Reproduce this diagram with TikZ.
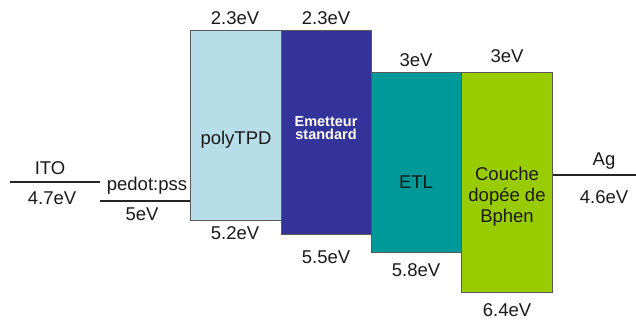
\documentclass[tikz,border=0pt]{standalone}
\usepackage{fontspec}
\setmainfont{Liberation Sans}
\definecolor{cTPD}{HTML}{B7DEE8}
\definecolor{cEM}{HTML}{333399}
\definecolor{cETL}{HTML}{009999}
\definecolor{cBP}{HTML}{99CC00}
\definecolor{cTxt}{HTML}{1A1A1A}
\begin{document}
\begin{tikzpicture}[x=1pt,y=-1pt,
  lvl/.style={line width=2pt,black!85},
  layer/.style={draw=black!65,line width=0.8pt},
  lab/.style={font=\fontsize{18.5}{21}\selectfont,text=cTxt,inner sep=0pt,anchor=center,align=center}]
\useasboundingbox (0,0) rectangle (636,320);
% electrodes
\coordinate (itoL) at (10,182);
\coordinate (itoR) at (100,182);
\coordinate (pedL) at (100,201);
\coordinate (pedR) at (190,201);
\coordinate (agL) at (552,175);
\coordinate (agR) at (636,175);
\draw[lvl] (itoL) -- (itoR);
\draw[lvl] (pedL) -- (pedR);
\draw[lvl] (agL) -- (agR);
% layers
\path[layer,fill=cTPD] (190,30) rectangle (281,220) node[pos=0.5] (tpd) {};
\path[layer,fill=cEM] (281,30) rectangle (371,234) node[pos=0.5] (em) {};
\path[layer,fill=cETL] (371,72) rectangle (461,252) node[pos=0.5] (etl) {};
\path[layer,fill=cBP] (461,72) rectangle (552,292) node[pos=0.5] (bp) {};
% labels
\node[lab] (tITO) at (50,168) {ITO};
\node[lab] (vITO) at (52,198) {4.7eV};
\node[lab] (tPED) at (147,186) {pedot:pss};
\node[lab] (vPED) at (142,214) {5eV};
\node[lab] (tpdTop) at (235,18) {2.3eV};
\node[lab] (emTop) at (326,18) {2.3eV};
\node[lab] (tTPD) at (236,140) {polyTPD};
\node[lab,text=white,font=\fontsize{14.5}{14.5}\selectfont\bfseries,align=center] (tEM) at (326,128) {Emetteur\\[-1pt]standard};
\node[lab] (tpdBot) at (235,233) {5.2eV};
\node[lab] (emBot) at (326,257) {5.5eV};
\node[lab] (etlTop) at (416,60) {3eV};
\node[lab] (bpTop) at (507,56) {3eV};
\node[lab] (tETL) at (416,182) {ETL};
\node[lab] (tBP) at (507,197) {Couche\\dopée de\\Bphen};
\node[lab] (etlBot) at (416,270) {5.8eV};
\node[lab] (bpBot) at (507,310) {6.4eV};
\node[lab] (tAG) at (604,161) {Ag};
\node[lab] (vAG) at (604,197) {4.6eV};
\end{tikzpicture}
\end{document}
